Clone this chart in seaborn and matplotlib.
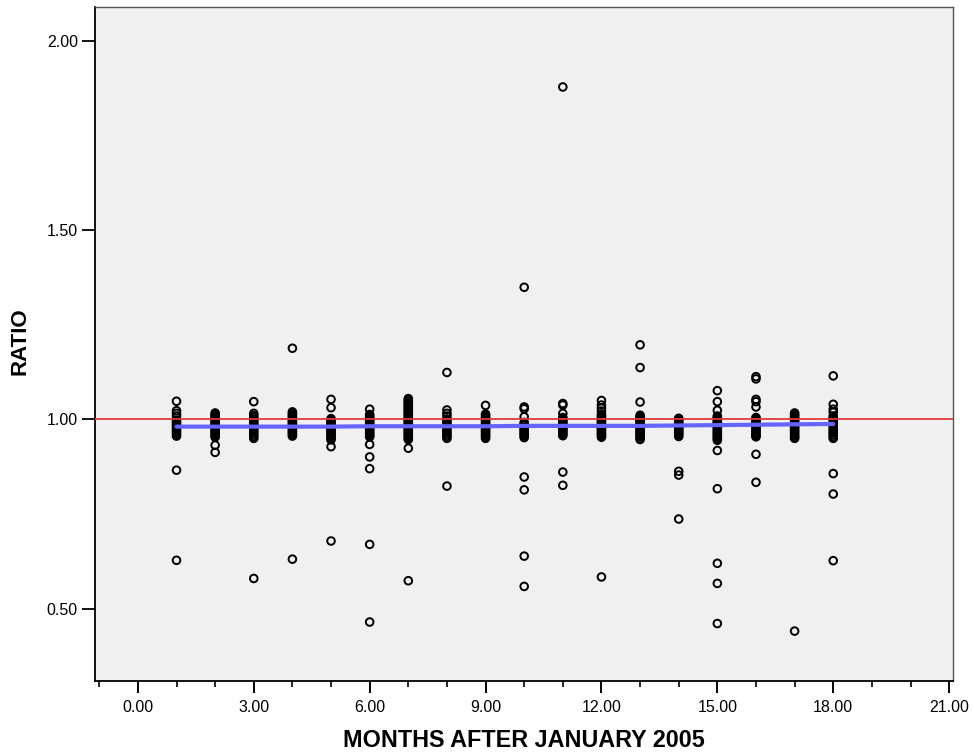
import matplotlib
matplotlib.use("Agg")
import matplotlib.pyplot as plt
from matplotlib.ticker import MultipleLocator, FormatStrFormatter
from matplotlib import font_manager
import seaborn as sns
import pandas as pd

# ---- data ----
m01 = [1.048, 1.023, 1.016, 1.009, 0.998, 0.993, 0.988, 0.984, 0.980, 0.976, 0.971, 0.966,
       0.961, 0.956, 0.866, 0.628]
m02 = [1.017, 1.013, 1.009, 1.005, 1.001, 0.997, 0.993, 0.989, 0.985, 0.981, 0.977, 0.973,
       0.969, 0.965, 0.961, 0.957, 0.953, 0.932, 0.913]
m03 = [1.047, 1.016, 1.010, 1.005, 1.000, 0.995, 0.990, 0.985, 0.980, 0.975, 0.970, 0.965,
       0.960, 0.955, 0.950, 0.580]
m04 = [1.188, 1.020, 1.016, 1.012, 1.008, 1.004, 1.000, 0.996, 0.992, 0.988, 0.984, 0.980,
       0.976, 0.972, 0.968, 0.964, 0.960, 0.956, 0.631]
m05 = [1.053, 1.031, 1.002, 0.998, 0.994, 0.990, 0.986, 0.982, 0.978, 0.974, 0.970, 0.966,
       0.962, 0.958, 0.954, 0.950, 0.946, 0.928, 0.679]
m06 = [1.027, 1.013, 1.009, 1.005, 1.001, 0.997, 0.993, 0.989, 0.985, 0.981, 0.977, 0.973,
       0.969, 0.965, 0.961, 0.957, 0.954, 0.934, 0.901, 0.870, 0.670, 0.465]
m07 = [1.055, 1.051, 1.047, 1.043, 1.039, 1.035, 1.031, 1.027, 1.023, 1.019, 1.015, 1.011,
       1.007, 1.003, 0.999, 0.995, 0.991, 0.987, 0.983, 0.979, 0.975, 0.971, 0.967, 0.963,
       0.959, 0.955, 0.951, 0.947, 0.924, 0.574]
m08 = [1.124, 1.025, 1.016, 1.009, 1.000, 0.995, 0.990, 0.985, 0.980, 0.975, 0.970, 0.965,
       0.960, 0.955, 0.950, 0.824]
m09 = [1.037, 1.014, 1.010, 1.006, 1.002, 0.998, 0.994, 0.990, 0.986, 0.982, 0.978, 0.974,
       0.970, 0.966, 0.962, 0.958, 0.954, 0.950]
m10 = [1.349, 1.033, 1.028, 1.007, 0.992, 0.988, 0.984, 0.980, 0.976, 0.972, 0.968, 0.964,
       0.960, 0.956, 0.952, 0.848, 0.814, 0.639, 0.559]
m11 = [1.878, 1.042, 1.038, 1.016, 1.005, 1.001, 0.997, 0.993, 0.989, 0.985, 0.981, 0.977,
       0.973, 0.969, 0.965, 0.961, 0.957, 0.861, 0.826]
m12 = [1.050, 1.038, 1.030, 1.022, 1.013, 1.009, 1.005, 1.001, 0.997, 0.993, 0.989, 0.985,
       0.981, 0.977, 0.973, 0.969, 0.965, 0.961, 0.957, 0.953, 0.584]
m13 = [1.197, 1.137, 1.046, 1.011, 1.007, 1.003, 0.999, 0.995, 0.991, 0.987, 0.983, 0.979,
       0.975, 0.971, 0.967, 0.963, 0.959, 0.955, 0.951, 0.947]
m14 = [1.003, 0.999, 0.995, 0.991, 0.987, 0.983, 0.979, 0.975, 0.971, 0.967, 0.963, 0.959,
       0.955, 0.863, 0.853, 0.737]
m15 = [1.076, 1.047, 1.024, 1.009, 1.005, 1.001, 0.997, 0.993, 0.989, 0.985, 0.981, 0.977,
       0.973, 0.969, 0.965, 0.961, 0.957, 0.953, 0.949, 0.945, 0.918, 0.817, 0.620, 0.567, 0.461]
m16 = [1.113, 1.107, 1.053, 1.047, 1.033, 1.005, 1.001, 0.997, 0.993, 0.989, 0.985, 0.981,
       0.977, 0.973, 0.969, 0.965, 0.961, 0.957, 0.954, 0.908, 0.834]
m17 = [1.017, 1.013, 1.009, 1.005, 1.001, 0.997, 0.993, 0.989, 0.985, 0.981, 0.977, 0.973,
       0.969, 0.965, 0.961, 0.957, 0.953, 0.950, 0.441]
m18 = [1.115, 1.040, 1.027, 1.019, 1.009, 1.004, 0.999, 0.994, 0.989, 0.984, 0.979, 0.974,
       0.969, 0.964, 0.959, 0.954, 0.950, 0.857, 0.803, 0.627]

ratios_by_month = [m01, m02, m03, m04, m05, m06, m07, m08, m09,
                   m10, m11, m12, m13, m14, m15, m16, m17, m18]
months = list(range(1, 19))

# fitted trend line
fit_values = [0.981, 0.981, 0.981, 0.981, 0.981, 0.982, 0.982, 0.982, 0.982,
              0.983, 0.983, 0.983, 0.983, 0.984, 0.985, 0.986, 0.987, 0.988]

reference_ratio = 1.0
x_label = "MONTHS AFTER JANUARY 2005"
y_label = "RATIO"

# ---- build table ----
rows = []
for mo, vals in zip(months, ratios_by_month):
    for v in vals:
        rows.append({"month": mo, "ratio": v})
df = pd.DataFrame(rows)
fit_df = pd.DataFrame({"month": months, "fit": fit_values})

# ---- plot ----
sns.set_style("white")
plt.rcParams["font.family"] = ["Liberation Sans", "DejaVu Sans"]
plt.rcParams["text.color"] = "black"

bold_family = "Liberation Sans"
try:
    path = font_manager.findfont(font_manager.FontProperties(family="Liberation Sans", weight="bold"),
                                 fallback_to_default=False)
    if "bold" not in path.lower():
        bold_family = "DejaVu Sans"
except Exception:
    bold_family = "DejaVu Sans"

fig = plt.figure(figsize=(9.74, 7.54), dpi=100)
ax = fig.add_axes([95 / 974, 1 - 680.7 / 754, (953 - 95) / 974, (680.7 - 6.7) / 754])
ax.set_facecolor("#f0f0f0")

sns.scatterplot(data=df, x="month", y="ratio", ax=ax, marker="o", s=30,
                facecolors="none", edgecolor="black", linewidth=1.4, zorder=2)

ax.axhline(reference_ratio, color="#e23a3a", lw=1.3, zorder=3)

sns.lineplot(data=fit_df, x="month", y="fit", ax=ax, color="#6464ff", lw=3.0, zorder=4)

ax.set_xlim(-1.11, 21.1)
ax.set_ylim(0.31, 2.09)

ax.xaxis.set_major_locator(MultipleLocator(3))
ax.xaxis.set_minor_locator(MultipleLocator(1))
ax.xaxis.set_major_formatter(FormatStrFormatter("%.2f"))
ax.yaxis.set_major_locator(MultipleLocator(0.5))
ax.yaxis.set_major_formatter(FormatStrFormatter("%.2f"))

ax.tick_params(axis="x", which="major", direction="out", length=8.6, width=1.4,
               pad=5, labelsize=11.5, colors="black", bottom=True)
ax.tick_params(axis="x", which="minor", direction="out", length=4.3, width=1.4, bottom=True)
ax.tick_params(axis="y", which="major", direction="out", length=9.4, width=1.3,
               pad=3, labelsize=11.5, colors="black", left=True)

for side in ["left", "bottom"]:
    ax.spines[side].set_color("black")
    ax.spines[side].set_linewidth(1.3)
for side in ["top", "right"]:
    ax.spines[side].set_color("#555555")
    ax.spines[side].set_linewidth(1.0)

ax.set_xlabel(x_label, fontsize=16.8, fontweight="bold", family=bold_family, color="black")
ax.set_ylabel(y_label, fontsize=16, fontweight="bold", family=bold_family, color="black")
ax.xaxis.set_label_coords(0.5, -0.0717)
ax.yaxis.set_label_coords(-0.0746, 0.504)

fig.savefig("out.png", dpi=100)
